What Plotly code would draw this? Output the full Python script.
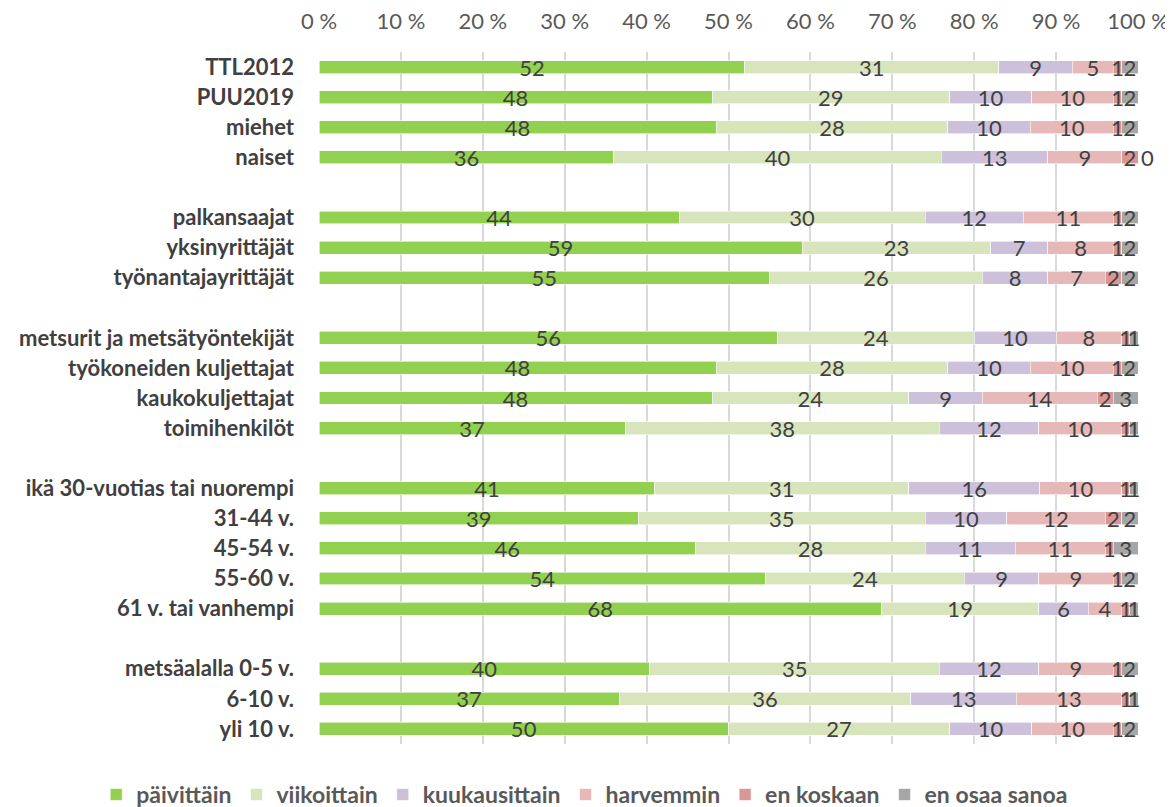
import plotly.graph_objects as go

# rows top to bottom; blank names are the spacer rows
categories = [
    "TTL2012", "PUU2019", "miehet", "naiset", " ",
    "palkansaajat", "yksinyrittäjät", "työnantajayrittäjät", "  ",
    "metsurit ja metsätyöntekijät", "työkoneiden kuljettajat", "kaukokuljettajat", "toimihenkilöt", "   ",
    "ikä 30-vuotias tai nuorempi", "31-44 v.", "45-54 v.", "55-60 v.", "61 v. tai vanhempi", "    ",
    "metsäalalla 0-5 v.", "6-10 v.", "yli 10 v.",
]

paivittain = [52, 48, 48, 36, None, 44, 59, 55, None, 56, 48, 48, 37, None, 41, 39, 46, 54, 68, None, 40, 37, 50]
viikoittain = [31, 29, 28, 40, None, 30, 23, 26, None, 24, 28, 24, 38, None, 31, 35, 28, 24, 19, None, 35, 36, 27]
kuukausittain = [9, 10, 10, 13, None, 12, 7, 8, None, 10, 10, 9, 12, None, 16, 10, 11, 9, 6, None, 12, 13, 10]
harvemmin = [5, 10, 10, 9, None, 11, 8, 7, None, 8, 10, 14, 10, None, 10, 12, 11, 9, 4, None, 9, 13, 10]
en_koskaan = [1, 1, 1, 2, None, 1, 1, 2, None, 1, 1, 2, 1, None, 1, 2, 1, 1, 1, None, 1, 1, 1]
en_osaa = [2, 2, 2, 0, None, 2, 2, 2, None, 1, 2, 3, 1, None, 1, 2, 3, 2, 1, None, 2, 1, 2]

series = [
    ("päivittäin", paivittain, "#92D050"),
    ("viikoittain", viikoittain, "#D8E4BC"),
    ("kuukausittain", kuukausittain, "#CCC0DA"),
    ("harvemmin", harvemmin, "#E6B9B8"),
    ("en koskaan", en_koskaan, "#DA9694"),
    ("en osaa sanoa", en_osaa, "#A6A6A6"),
]

tick_vals = list(range(0, 101, 10))
tick_text = [f"{v} %" for v in tick_vals]

FONT = "Lato, 'Open Sans', sans-serif"

fig = go.Figure()
for name, vals, color in series:
    # a zero share has no bar to sit in, so its label goes just past the end
    positions = ["outside" if v == 0 else "inside" for v in vals]
    fig.add_trace(go.Bar(
        name=f"<b>{name}</b>",
        y=categories,
        x=vals,
        orientation="h",
        marker=dict(color=color, line=dict(color="white", width=0.6)),
        text=["" if v is None else str(v) for v in vals],
        textposition=positions,
        insidetextanchor="middle",
        constraintext="none",
        textangle=0,
        textfont=dict(size=22, color="#404040", family=FONT),
        cliponaxis=False,
        hoverinfo="name+x",
    ))

# the page body adds an 8px offset, so the figure is 8px smaller each way
fig.update_layout(
    barmode="stack",
    barnorm="percent",
    bargap=0.57,
    width=1165,
    height=799,
    margin=dict(l=311, r=35, t=44, b=63, autoexpand=False),
    plot_bgcolor="white",
    paper_bgcolor="white",
    font=dict(family=FONT, color="#595959", size=22),
    uniformtext=dict(minsize=22, mode="show"),
    legend=dict(
        orientation="h",
        x=-0.272, xanchor="left",
        y=-0.073, yanchor="middle",
        font=dict(size=23, color="#595959", family=FONT),
        traceorder="normal",
        itemwidth=30,
    ),
    showlegend=True,
)

fig.update_xaxes(
    side="top",
    range=[0, 100],
    tickvals=tick_vals,
    ticktext=tick_text,
    showgrid=True,
    gridcolor="#D9D9D9",
    gridwidth=1.5,
    zeroline=False,
    tickfont=dict(size=22, color="#595959"),
    ticks="",
    ticklabelstandoff=18,
    automargin=False,
)

fig.update_yaxes(
    categoryorder="array",
    categoryarray=categories,
    autorange="reversed",
    tickfont=dict(size=22, color="#404040", family=FONT, weight="bold"),
    ticks="",
    ticklabelstandoff=24,
    showgrid=False,
    automargin=False,
)

fig.write_html("out.html")
